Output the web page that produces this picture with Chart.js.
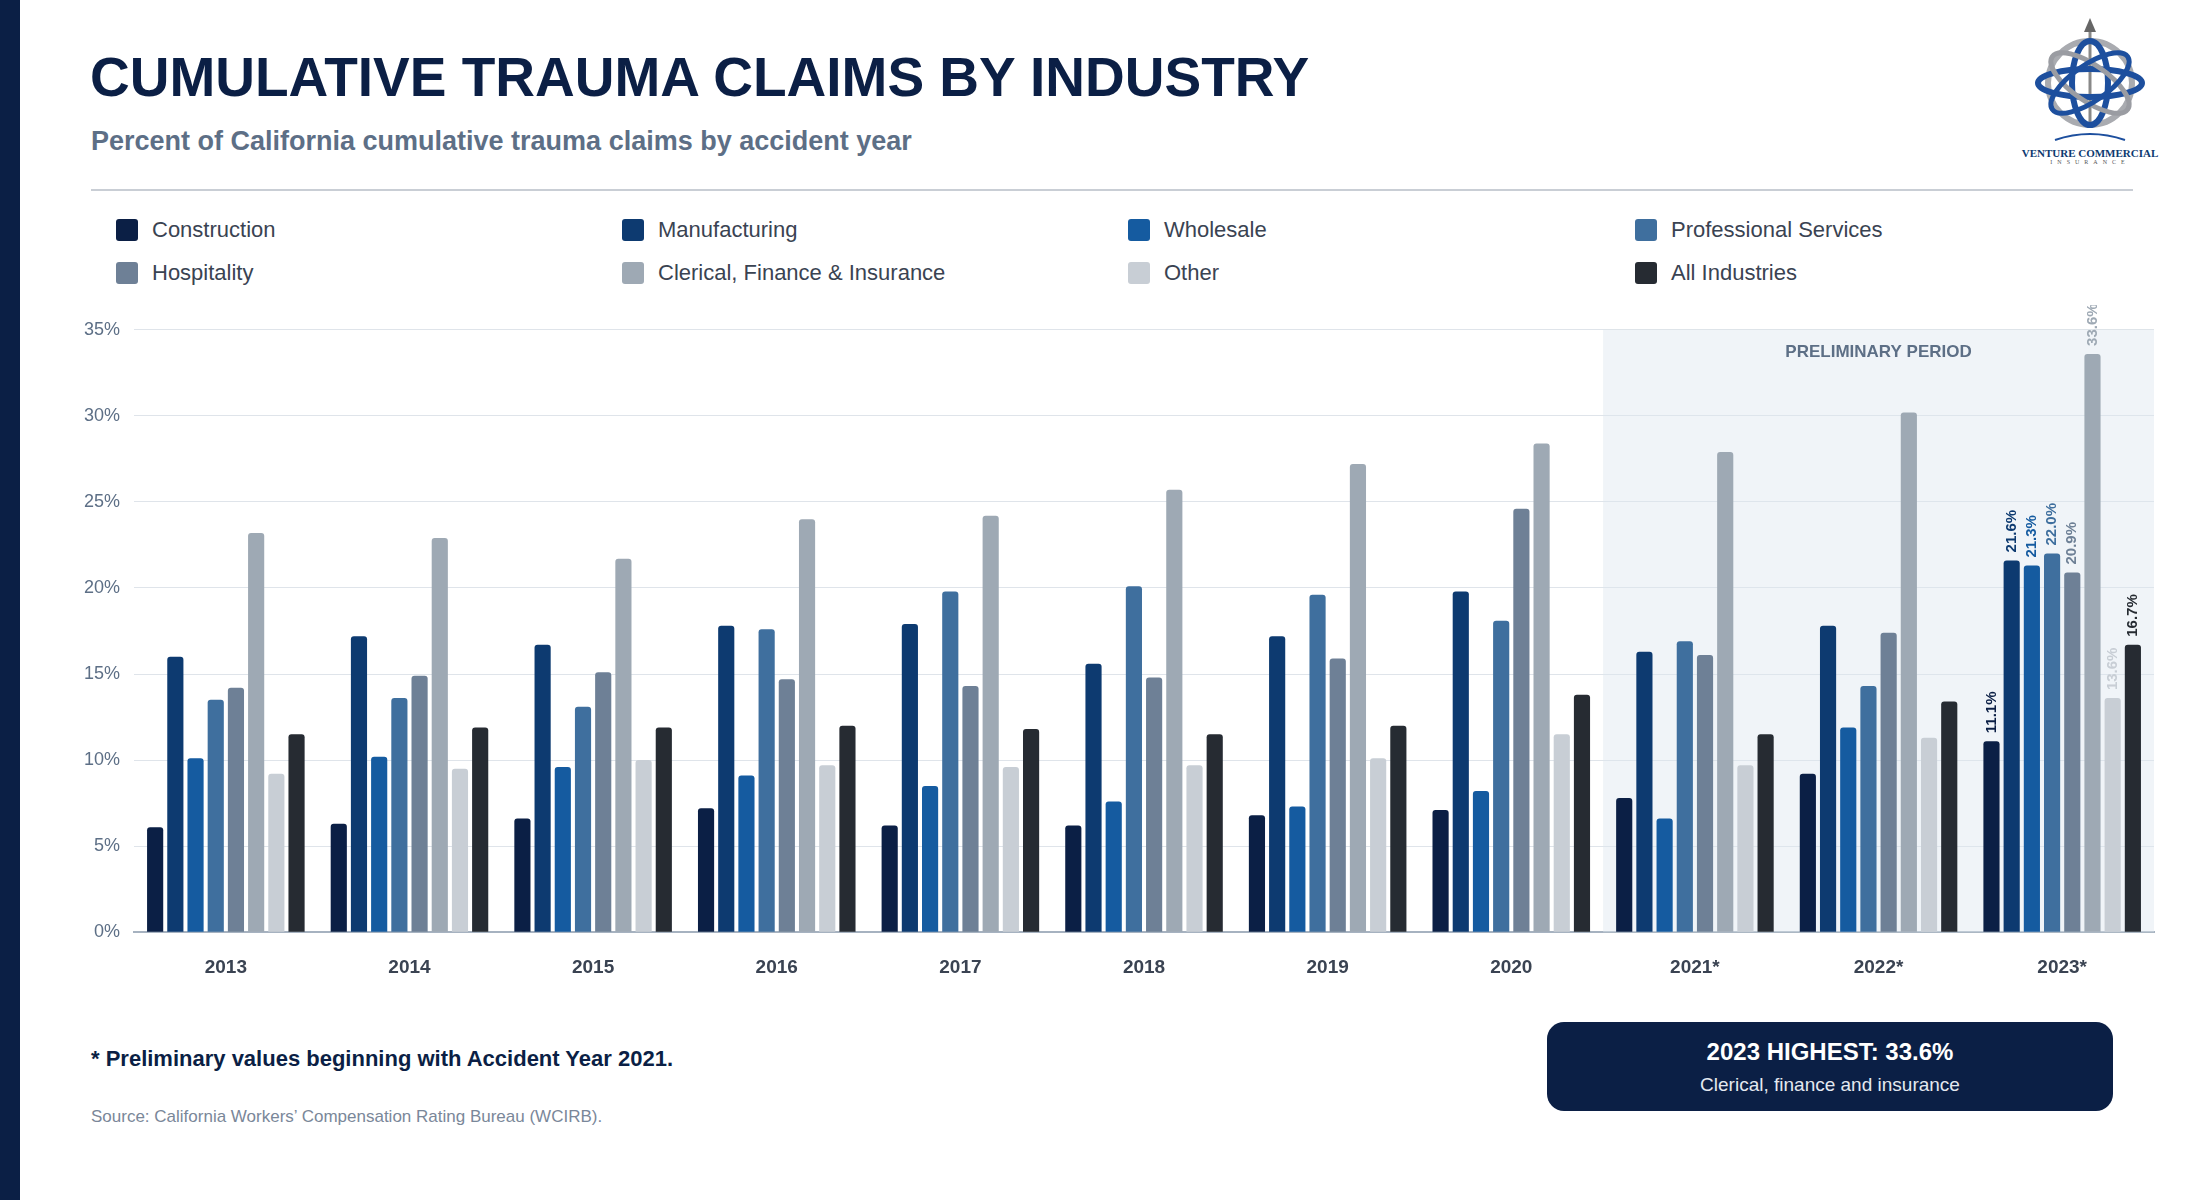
<!DOCTYPE html>
<html>
<head>
<meta charset="utf-8">
<script src="https://cdn.jsdelivr.net/npm/chart.js@4"></script>
<style>
body { margin:0; width:2200px; height:1200px; background:#fff; font-family:"Liberation Sans", Arial, sans-serif; position:relative; overflow:hidden; }
#stripe { position:absolute; left:0; top:0; width:20px; height:1200px; background:#0b1f45; }
#title { position:absolute; left:90px; top:45px; font-size:55px; font-weight:700; color:#0b1f45; }
#subtitle { position:absolute; left:91px; top:126px; font-size:27px; font-weight:700; color:#5d6f86; }
#rule { position:absolute; left:91px; top:189px; width:2042px; height:2px; background:#c9ced5; }
#legend { position:absolute; left:116px; top:217px; width:2000px; }
.item { position:absolute; font-size:22px; color:#3a4352; display:flex; align-items:center; }
.item span { display:inline-block; width:22px; height:22px; border-radius:3px; margin-right:14px; }
#wrap { position:absolute; left:70px; top:305px; width:2090px; height:690px; }
#note { position:absolute; left:91px; top:1046px; font-size:22px; font-weight:700; color:#0b1f45; }
#source { position:absolute; left:91px; top:1107px; font-size:17px; color:#7a8799; }
#box { position:absolute; left:1547px; top:1022px; width:566px; height:89px; background:#0b1f45; border-radius:17px; color:#fff; text-align:center; }
#box b { display:block; font-size:24px; margin-top:16px; }
#box div { font-size:19px; margin-top:8px; color:#e4e9f0; }
#logo { position:absolute; left:2010px; top:18px; width:160px; text-align:center; }
#logo .n { font-family:"Liberation Serif", serif; font-size:11px; color:#0d3a70; font-weight:700; white-space:nowrap; }
#logo .s { font-family:"Liberation Serif", serif; font-size:6px; color:#555; letter-spacing:5px; }
</style>
</head>
<body>
<div id="stripe"></div>
<div id="title">CUMULATIVE TRAUMA CLAIMS BY INDUSTRY</div>
<div id="subtitle">Percent of California cumulative trauma claims by accident year</div>
<div id="rule"></div>
<div id="logo">
<svg width="120" height="125" viewBox="0 0 120 125">
<line x1="60" y1="5" x2="60" y2="110" stroke="#888" stroke-width="3"/>
<polygon points="60,0 54,14 66,14" fill="#666"/>
<ellipse cx="60" cy="65" rx="42" ry="42" fill="none" stroke="#a9abb0" stroke-width="6"/>
<ellipse cx="60" cy="65" rx="18" ry="42" fill="none" stroke="#1d4f9e" stroke-width="6"/>
<ellipse cx="60" cy="65" rx="52" ry="14" fill="none" stroke="#1d4f9e" stroke-width="6"/>
<ellipse cx="60" cy="65" rx="46" ry="18" fill="none" stroke="#9a9ca2" stroke-width="5" transform="rotate(35 60 65)"/>
<ellipse cx="60" cy="65" rx="46" ry="18" fill="none" stroke="#1d4f9e" stroke-width="5" transform="rotate(-35 60 65)"/>
<path d="M25 122 Q60 110 95 122" fill="none" stroke="#1d4f9e" stroke-width="2"/>
</svg>
<div class="n">VENTURE COMMERCIAL</div>
<div class="s">INSURANCE</div>
</div>
<div id="legend"></div>
<div id="wrap"><canvas id="chart"></canvas></div>
<div id="note">* Preliminary values beginning with Accident Year 2021.</div>
<div id="source">Source: California Workers’ Compensation Rating Bureau (WCIRB).</div>
<div id="box"><b>2023 HIGHEST: 33.6%</b><div>Clerical, finance and insurance</div></div>
<script>
var years = ["2013","2014","2015","2016","2017","2018","2019","2020","2021*","2022*","2023*"];
var seriesNames = ["Construction","Manufacturing","Wholesale","Professional Services","Hospitality","Clerical, Finance & Insurance","Other","All Industries"];
var seriesColors = ["#0b1f45","#0d3a70","#155ba0","#3f6f9e","#6e8096","#9ea9b4","#c8ced5","#262b32"];

var construction  = [6.1, 6.3, 6.6, 7.2, 6.2, 6.2, 6.8, 7.1, 7.8, 9.2, 11.1];
var manufacturing = [16.0, 17.2, 16.7, 17.8, 17.9, 15.6, 17.2, 19.8, 16.3, 17.8, 21.6];
var wholesale     = [10.1, 10.2, 9.6, 9.1, 8.5, 7.6, 7.3, 8.2, 6.6, 11.9, 21.3];
var professional  = [13.5, 13.6, 13.1, 17.6, 19.8, 20.1, 19.6, 18.1, 16.9, 14.3, 22.0];
var hospitality   = [14.2, 14.9, 15.1, 14.7, 14.3, 14.8, 15.9, 24.6, 16.1, 17.4, 20.9];
var clerical      = [23.2, 22.9, 21.7, 24.0, 24.2, 25.7, 27.2, 28.4, 27.9, 30.2, 33.6];
var other         = [9.2, 9.5, 10.0, 9.7, 9.6, 9.7, 10.1, 11.5, 9.7, 11.3, 13.6];
var allIndustries = [11.5, 11.9, 11.9, 12.0, 11.8, 11.5, 12.0, 13.8, 11.5, 13.4, 16.7];
var seriesValues = [construction, manufacturing, wholesale, professional, hospitality, clerical, other, allIndustries];
var yTicks = [0, 5, 10, 15, 20, 25, 30, 35];

// legend, 4 columns
var legendX = [0, 506, 1012, 1519];
var leg = document.getElementById('legend');
seriesNames.forEach(function (n, i) {
	var d = document.createElement('div');
	d.className = 'item';
	d.style.left = legendX[i % 4] + 'px';
	d.style.top = (Math.floor(i / 4) * 43) + 'px';
	d.innerHTML = '<span style="background:' + seriesColors[i] + '"></span>' + n;
	leg.appendChild(d);
});

var datasets = seriesNames.map(function (n, i) {
	return {
		label: n,
		data: seriesValues[i],
		backgroundColor: seriesColors[i],
		borderRadius: 3,
		borderSkipped: 'bottom',
		barPercentage: 0.8,
		categoryPercentage: 0.88
	};
});

var prelimPlugin = {
	id: 'prelim',
	beforeDatasetsDraw: function (chart) {
		var ctx = chart.ctx, x = chart.scales.x, a = chart.chartArea;
		var left = (x.getPixelForValue(7) + x.getPixelForValue(8)) / 2;
		ctx.save();
		ctx.fillStyle = 'rgba(222,230,240,0.45)';
		ctx.fillRect(left, a.top, a.right - left, a.bottom - a.top);
		ctx.fillStyle = '#5d6f86';
		ctx.font = 'bold 17px "Liberation Sans"';
		ctx.textAlign = 'center';
		ctx.fillText('PRELIMINARY PERIOD', (left + a.right) / 2, a.top + 27);
		ctx.restore();
	},
	afterDatasetsDraw: function (chart) {
		var ctx = chart.ctx;
		ctx.save();
		ctx.font = 'bold 15px "Liberation Sans"';
		chart.data.datasets.forEach(function (ds, i) {
			var bar = chart.getDatasetMeta(i).data[10];
			ctx.save();
			ctx.translate(bar.x, bar.y - 8);
			ctx.rotate(-Math.PI / 2);
			ctx.fillStyle = seriesColors[i];
			ctx.textAlign = 'left';
			ctx.textBaseline = 'middle';
			ctx.fillText(ds.data[10].toFixed(1) + '%', 0, 0);
			ctx.restore();
		});
		ctx.restore();
	}
};

new Chart(document.getElementById('chart'), {
	type: 'bar',
	data: { labels: years, datasets: datasets },
	plugins: [prelimPlugin],
	options: {
		responsive: true,
		maintainAspectRatio: false,
		animation: false,
		layout: { padding: { top: 15, right: 6, bottom: 0, left: 0 } },
		plugins: { legend: { display: false }, tooltip: { enabled: false } },
		scales: {
			y: {
				min: 0, max: 35,
				afterBuildTicks: function (s) { s.ticks = yTicks.map(function (v) { return { value: v }; }); },
				ticks: { callback: function (v) { return v + '%'; }, color: '#5d6f86', font: { size: 18, family: 'Liberation Sans' }, padding: 14 },
				grid: { color: '#dfe4ea', drawTicks: false },
				border: { display: false }
			},
			x: {
				ticks: { color: '#3a4352', font: { size: 19, weight: 'bold', family: 'Liberation Sans' }, padding: 16 },
				grid: { display: false },
				border: { color: '#a6b2c0', width: 2 }
			}
		}
	}
});
</script>
</body>
</html>
